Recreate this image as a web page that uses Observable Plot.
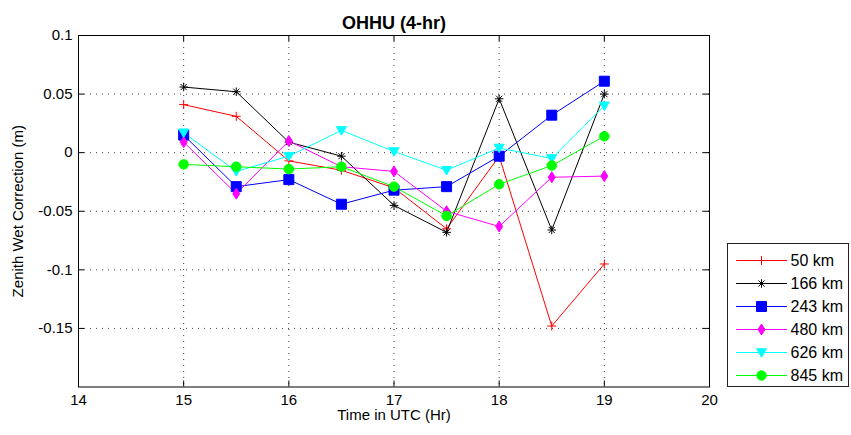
<!DOCTYPE html>
<html>
<head>
<meta charset="utf-8">
<script src="https://cdn.jsdelivr.net/npm/d3@7"></script>
<script src="https://cdn.jsdelivr.net/npm/@observablehq/plot@0.6"></script>
<style>
  html, body { margin: 0; padding: 0; background: #fff; }
  #wrap { position: relative; width: 851px; height: 435px; font-family: "Liberation Sans", Arial, sans-serif; }
  #legend { position: absolute; left: 727px; top: 243px; width: 120px; height: 142px; border: 1px solid #222; background: #fff; }
</style>
</head>
<body>
<div id="wrap"><div id="chart"></div><div id="legend"></div></div>
<script>
// ---- data ----
const hours = [15, 15.5, 16, 16.5, 17, 17.5, 18, 18.5, 19];
const km50  = [0.041, 0.031, -0.007, -0.015, -0.030, -0.065, -0.003, -0.148, -0.095];
const km166 = [0.056, 0.052, 0.009, -0.003, -0.045, -0.068, 0.046, -0.066, 0.050];
const km243 = [0.015, -0.029, -0.023, -0.044, -0.032, -0.029, -0.003, 0.032, 0.061];
const km480 = [0.009, -0.035, 0.010, -0.012, -0.016, -0.050, -0.063, -0.021, -0.020];
const km626 = [0.017, -0.016, -0.003, 0.019, 0.001, -0.015, 0.004, -0.005, 0.040];
const km845 = [-0.010, -0.012, -0.014, -0.012, -0.029, -0.054, -0.027, -0.011, 0.014];
const seriesNames = ["50 km", "166 km", "243 km", "480 km", "626 km", "845 km"];
const seriesValues = [km50, km166, km243, km480, km626, km845];
const seriesColors = ["#ff0000", "#000000", "#0000ff", "#ff00ff", "#00ffff", "#00ff00"];
const xTicks = [14, 15, 16, 17, 18, 19, 20];
const yTicks = [0.1, 0.05, 0, -0.05, -0.1, -0.15];
const xGrid = [15, 16, 17, 18, 19];
const yGrid = [0.05, 0, -0.05, -0.1, -0.15];
const xDomain = [14, 20];
const yDomain = [-0.2, 0.1];
const titleText = "OHHU (4-hr)";
const xLabel = "Time in UTC (Hr)";
const yLabel = "Zenith Wet Correction (m)";

// ---- marker shapes (MATLAB style) ----
const R = (size) => Math.sqrt(size / Math.PI);
const symPlus = { draw(c, s) { const r = R(s) * 0.9; c.moveTo(-r, 0); c.lineTo(r, 0); c.moveTo(0, -r); c.lineTo(0, r); } };
const symStar = { draw(c, s) { const r = R(s) * 0.85, d = r * 0.72; c.moveTo(-r, 0); c.lineTo(r, 0); c.moveTo(0, -r); c.lineTo(0, r); c.moveTo(-d, -d); c.lineTo(d, d); c.moveTo(-d, d); c.lineTo(d, -d); } };
const symSquare = { draw(c, s) { const r = R(s); c.rect(-r, -r, 2 * r, 2 * r); } };
const symDiamond = { draw(c, s) { const r = R(s); c.moveTo(0, -r * 1.1); c.lineTo(r * 0.7, 0); c.lineTo(0, r * 1.1); c.lineTo(-r * 0.7, 0); c.closePath(); } };
const symTriDown = { draw(c, s) { const r = R(s); c.moveTo(-r, -r * 0.75); c.lineTo(r, -r * 0.75); c.lineTo(0, r * 0.95); c.closePath(); } };
const symCircle = { draw(c, s) { const r = R(s) * 0.95; c.moveTo(r, 0); c.arc(0, 0, r, 0, 2 * Math.PI); c.closePath(); } };
const seriesSymbols = [symPlus, symStar, symSquare, symDiamond, symTriDown, symCircle];
const seriesFilled = [false, false, true, true, true, true];

const rows = [];
seriesNames.forEach((name, k) => hours.forEach((h, i) => rows.push({series: name, k, hour: h, value: seriesValues[k][i]})));

const font = "'Liberation Sans', Arial, Helvetica, sans-serif";

const marks = [
  Plot.ruleY(yGrid, {y: d => d, stroke: "#000", strokeOpacity: 0.75, strokeDasharray: "1,5"}),
  Plot.ruleX(xGrid, {x: d => d, stroke: "#000", strokeOpacity: 0.75, strokeDasharray: "1,5"}),
];
seriesNames.forEach((name, k) => {
  const d = rows.filter(r => r.k === k);
  marks.push(Plot.line(d, {x: "hour", y: "value", stroke: seriesColors[k], strokeWidth: 1}));
});
seriesNames.forEach((name, k) => {
  const d = rows.filter(r => r.k === k);
  marks.push(Plot.dot(d, {
    x: "hour", y: "value", r: 5, symbol: seriesSymbols[k],
    fill: seriesFilled[k] ? seriesColors[k] : "none",
    stroke: seriesColors[k], strokeWidth: 1
  }));
});
marks.push(
  Plot.frame({stroke: "#000", strokeWidth: 1}),
  // inward tick marks on all four sides
  Plot.ruleX(xTicks, {x: d => d, y1: yDomain[0], y2: yDomain[0], insetBottom: 6, stroke: "#000"}),
  Plot.ruleX(xTicks, {x: d => d, y1: yDomain[1], y2: yDomain[1], insetTop: 6, stroke: "#000"}),
  Plot.ruleY(yTicks, {y: d => d, x1: xDomain[0], x2: xDomain[0], insetLeft: 6, stroke: "#000"}),
  Plot.ruleY(yTicks, {y: d => d, x1: xDomain[1], x2: xDomain[1], insetRight: 6, stroke: "#000"}),
  Plot.axisX({ticks: xTicks, tickSize: 0, tickPadding: 7, tickFormat: d => String(d), label: null, fontSize: "15px"}),
  Plot.axisY({ticks: yTicks, tickSize: 0, tickPadding: 6, tickFormat: d => String(d), label: null, fontSize: "15px"}),
  Plot.text([titleText], {frameAnchor: "top", textAnchor: "middle", dy: -19.5, fontSize: "18px", fontWeight: "bold", fill: "#000"}),
  Plot.text([xLabel], {frameAnchor: "bottom", textAnchor: "middle", dy: 33, fontSize: "15px", fill: "#000"}),
  Plot.text([yLabel], {frameAnchor: "left", textAnchor: "middle", dx: -60, rotate: -90, fontSize: "15px", fill: "#000"})
);

const chart = Plot.plot({
  width: 851, height: 435,
  marginLeft: 78, marginRight: 142, marginTop: 35, marginBottom: 48.5,
  x: {domain: xDomain, axis: null},
  y: {domain: yDomain, axis: null},
  style: {fontFamily: font, fontSize: "15px", color: "#000", background: "#fff", overflow: "visible"},
  marks
});
document.getElementById("chart").appendChild(chart);

// ---- legend ----
const legendMarks = [];
seriesNames.forEach((name, k) => {
  const seg = [{series: name, t: 0}, {series: name, t: 1}];
  legendMarks.push(Plot.line(seg, {x: "t", y: "series", stroke: seriesColors[k], strokeWidth: 1.2}));
  legendMarks.push(Plot.dot([{series: name, t: 0.5}], {x: "t", y: "series", r: 5, symbol: seriesSymbols[k],
    fill: seriesFilled[k] ? seriesColors[k] : "none", stroke: seriesColors[k], strokeWidth: 1}));
  legendMarks.push(Plot.text([{series: name, t: 1}], {x: "t", y: "series", text: "series", dx: 4, textAnchor: "start", fill: "#000", fontSize: "16px"}));
});
const legend = Plot.plot({
  width: 120, height: 142,
  margin: 0,
  x: {domain: [0, 1], range: [8, 58], axis: null},
  y: {type: "point", domain: seriesNames, range: [15.5, 130.5], padding: 0, axis: null},
  style: {fontFamily: font, fontSize: "16px", color: "#000", background: "transparent", overflow: "visible"},
  marks: legendMarks
});
document.getElementById("legend").appendChild(legend);
</script>
</body>
</html>
